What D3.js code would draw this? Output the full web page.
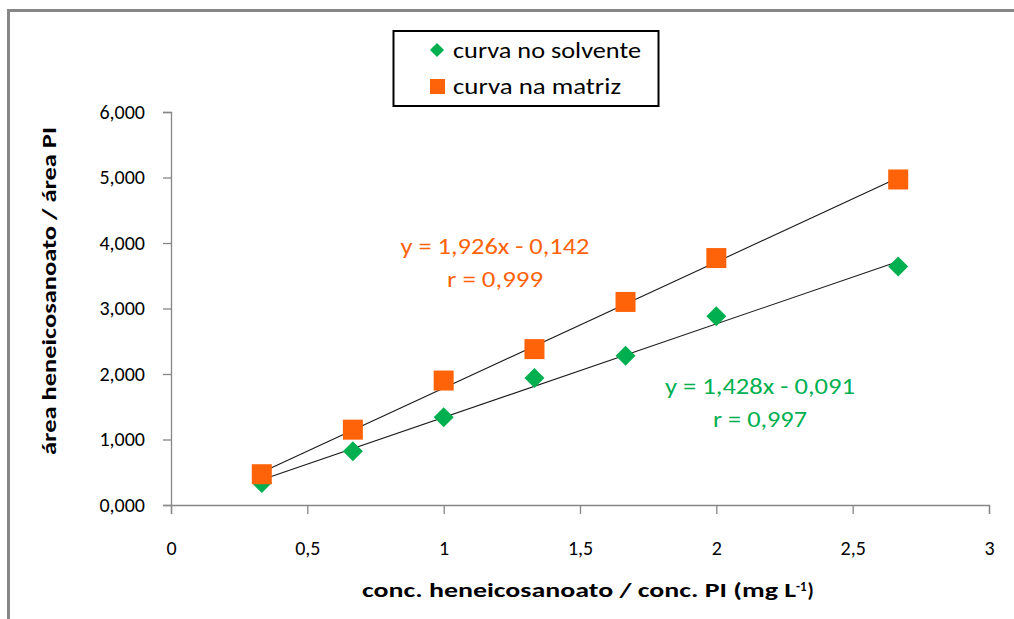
<!DOCTYPE html>
<html>
<head>
<meta charset="utf-8">
<script src="https://cdn.jsdelivr.net/npm/d3@7"></script>
<style>
  body { margin: 0; background: #fff; }
  text { font-family: Carlito, Calibri, 'Open Sans', sans-serif; }
</style>
</head>
<body>
<div id="chart"></div>
<script>
const WIDTH = 1014;
const HEIGHT = 619;

// valores
const conc = [0.333, 0.667, 1.0, 1.333, 1.667, 2.0, 2.667];
const solvente = [0.335, 0.82, 1.34, 1.94, 2.28, 2.88, 3.64];
const matriz = [0.47, 1.15, 1.90, 2.38, 3.10, 3.77, 4.97];
const fitSolvente = { a: 1.428, b: -0.091 };
const fitMatriz = { a: 1.926, b: -0.142 };
const xTicks = [0, 0.5, 1, 1.5, 2, 2.5, 3];
const yTicks = [0, 1, 2, 3, 4, 5, 6];

const GREEN = '#00b050';
const ORANGE = '#ff6309';
const fmtComma = d3.formatLocale({ decimal: ',', thousands: '.', grouping: [3] });

const plot = { left: 171, right: 989, top: 112, bottom: 505 };

const svg = d3.select('#chart').append('svg')
  .attr('width', WIDTH)
  .attr('height', HEIGHT);

// moldura (só topo e esquerda visíveis)
svg.append('path')
  .attr('d', `M8.5,${HEIGHT} L8.5,10.5 L${WIDTH},10.5`)
  .attr('fill', 'none')
  .attr('stroke', '#878787')
  .attr('stroke-width', 3);

const x = d3.scaleLinear().domain([0, 3]).range([plot.left, plot.right]);
const y = d3.scaleLinear().domain([0, 6]).range([plot.bottom, plot.top]);

const xAxis = svg.append('g')
  .attr('transform', `translate(0,${plot.bottom})`)
  .call(d3.axisBottom(x).tickValues(xTicks).tickSize(9).tickPadding(27)
    .tickFormat(d => fmtComma.format('~g')(d)));

const yAxis = svg.append('g')
  .attr('transform', `translate(${plot.left},0)`)
  .call(d3.axisLeft(y).tickValues(yTicks).tickSize(8).tickPadding(18)
    .tickFormat(d => fmtComma.format('.3f')(d)));

[xAxis, yAxis].forEach(g => {
  g.select('.domain').attr('stroke', '#868686').attr('stroke-width', 1.3);
  g.selectAll('.tick line').attr('stroke', '#868686').attr('stroke-width', 1.3);
  g.selectAll('.tick text').attr('fill', '#000').style('font-size', '20px');
});

// linhas de tendência
const fits = [fitMatriz, fitSolvente];
fits.forEach(f => {
  const x0 = d3.min(conc);
  const x1 = d3.max(conc);
  svg.append('line')
    .attr('x1', x(x0)).attr('y1', y(f.a * x0 + f.b))
    .attr('x2', x(x1)).attr('y2', y(f.a * x1 + f.b))
    .attr('stroke', '#1a1a1a')
    .attr('stroke-width', 1.1);
});

// pontos
const diamond = d3.symbol().type(d3.symbolSquare).size(200);
svg.append('g').selectAll('path')
  .data(conc.map((c, i) => [c, solvente[i]]))
  .join('path')
  .attr('d', diamond)
  .attr('transform', d => `translate(${x(d[0])},${y(d[1])}) rotate(45)`)
  .attr('fill', GREEN);

svg.append('g').selectAll('rect')
  .data(conc.map((c, i) => [c, matriz[i]]))
  .join('rect')
  .attr('x', d => x(d[0]) - 10)
  .attr('y', d => y(d[1]) - 10)
  .attr('width', 20)
  .attr('height', 20)
  .attr('fill', ORANGE);

// equações
const eqs = [
  { lines: ['y = 1,926x - 0,142', 'r = 0,999'], lens: [189, 96], color: ORANGE, cx: 495, cy: 246 },
  { lines: ['y = 1,428x - 0,091', 'r = 0,997'], lens: [190, 94], color: GREEN, cx: 760, cy: 386 }
];
eqs.forEach(e => {
  e.lines.forEach((t, i) => {
    svg.append('text')
      .attr('x', e.cx)
      .attr('y', e.cy + i * 33)
      .attr('dy', '0.35em')
      .attr('text-anchor', 'middle')
      .attr('fill', e.color)
      .attr('textLength', e.lens[i])
      .attr('lengthAdjust', 'spacingAndGlyphs')
      .style('font-size', '22px')
      .text(t);
  });
});

// títulos dos eixos
const xTitle = svg.append('text')
  .attr('x', 362)
  .attr('y', 590)
  .attr('dy', '0.35em')
  .style('font-size', '20px')
  .style('font-weight', 'bold');
xTitle.append('tspan')
  .attr('textLength', 434)
  .attr('lengthAdjust', 'spacingAndGlyphs')
  .text('conc. heneicosanoato / conc. PI (mg L');
xTitle.append('tspan').attr('dy', '-0.45em').style('font-size', '13px').text('-1');
xTitle.append('tspan').attr('dy', '0.3em').attr('dx', '1').text(')');

svg.append('text')
  .attr('transform', 'translate(49,291) rotate(-90)')
  .attr('dy', '0.35em')
  .attr('text-anchor', 'middle')
  .attr('textLength', 328)
  .attr('lengthAdjust', 'spacingAndGlyphs')
  .style('font-size', '20px')
  .style('font-weight', 'bold')
  .text('área heneicosanoato / área PI');

// legenda
const legend = svg.append('g');
legend.append('rect')
  .attr('x', 393.5).attr('y', 31)
  .attr('width', 265).attr('height', 75)
  .attr('fill', '#fff')
  .attr('stroke', '#000')
  .attr('stroke-width', 2);

legend.append('path')
  .attr('d', d3.symbol().type(d3.symbolSquare).size(100))
  .attr('transform', 'translate(437,50) rotate(45)')
  .attr('fill', GREEN);
legend.append('rect')
  .attr('x', 430).attr('y', 79)
  .attr('width', 15).attr('height', 15)
  .attr('fill', ORANGE);

[['curva no solvente', 50, 188], ['curva na matriz', 86, 168]].forEach(([t, ly, len]) => {
  legend.append('text')
    .attr('x', 453)
    .attr('y', ly)
    .attr('dy', '0.35em')
    .attr('textLength', len)
    .attr('lengthAdjust', 'spacingAndGlyphs')
    .style('font-size', '22px')
    .attr('fill', '#000')
    .text(t);
});
</script>
</body>
</html>
